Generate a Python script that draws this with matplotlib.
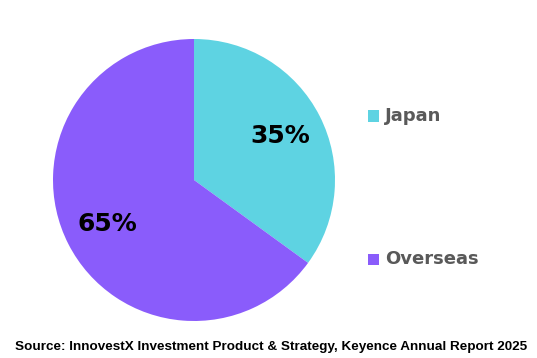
import matplotlib.pyplot as plt
from matplotlib.patches import Rectangle

# Keyence sales split by region
labels = ["Japan", "Overseas"]
shares = [35, 65]
colors = ["#5ED3E2", "#8A5CFB"]
source = "Source: InnovestX Investment Product & Strategy, Keyence Annual Report 2025"

plt.rcParams['font.family'] = ['DejaVu Sans']

W, H = 537, 358
fig = plt.figure(figsize=(W / 100, H / 100), dpi=100)
ax = fig.add_axes([53 / W, (H - 321) / H, 282 / W, 282 / H])

wedges, texts, autotexts = ax.pie(shares, colors=colors, startangle=90, counterclock=False,
                                  autopct='%d%%', pctdistance=0.69,
                                  wedgeprops=dict(linewidth=0))
for t in autotexts:
    t.set_fontsize(18)
    t.set_fontweight('bold')
    t.set_color('black')
ax.set_xlim(-1, 1)
ax.set_ylim(-1, 1)
ax.set_aspect('equal')

# legend drawn by hand, entries are far apart
legend_y = [116, 259]
for lab, col, y in zip(labels, colors, legend_y):
    fig.add_artist(Rectangle((368 / W, (H - y - 5.5) / H), 11 / W, 11 / H,
                             transform=fig.transFigure, color=col, lw=0))
    fig.text(385 / W, (H - y) / H, lab, fontsize=13, fontweight='bold',
             color='#595959', va='center', ha='left')

fig.text(15 / W, (H - 347) / H, source, fontsize=9.7, fontweight='bold',
         color='black', va='center', ha='left', family='Liberation Sans')

fig.savefig("out.png", dpi=100)
